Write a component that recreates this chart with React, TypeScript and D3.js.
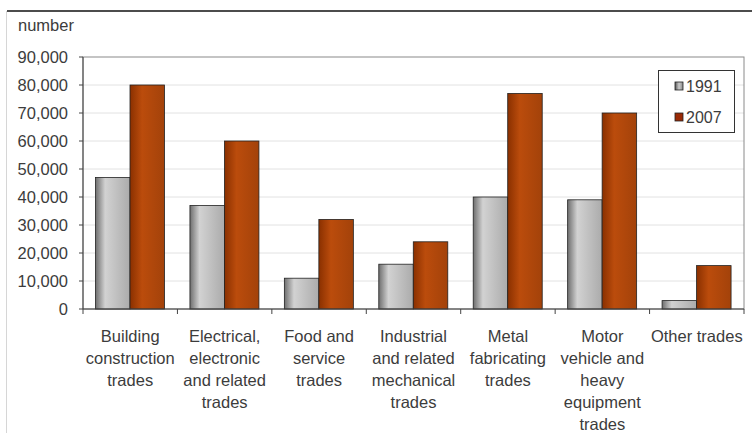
import * as d3 from 'd3'

const categories = [
  'Building construction trades',
  'Electrical, electronic and related trades',
  'Food and service trades',
  'Industrial and related mechanical trades',
  'Metal fabricating trades',
  'Motor vehicle and heavy equipment trades',
  'Other trades',
]
const categoryLines = [
  ['Building', 'construction', 'trades'],
  ['Electrical,', 'electronic', 'and related', 'trades'],
  ['Food and', 'service', 'trades'],
  ['Industrial', 'and related', 'mechanical', 'trades'],
  ['Metal', 'fabricating', 'trades'],
  ['Motor', 'vehicle and', 'heavy', 'equipment', 'trades'],
  ['Other trades'],
]
const seriesNames = ['1991', '2007']
const values1991 = [47000, 37000, 11000, 16000, 40000, 39000, 3000]
const values2007 = [80000, 60000, 32000, 24000, 77000, 70000, 15500]
const yTicks = [0, 10000, 20000, 30000, 40000, 50000, 60000, 70000, 80000, 90000]

const W = 752
const H = 434
const plot = { left: 83, right: 744, top: 57, bottom: 309 }
const font = '"Liberation Sans", Arial, sans-serif'
const textColor = '#3c3c3c'

export default function App() {
  const x = d3.scaleBand<string>().domain(categories).range([plot.left, plot.right])
  const xs = d3.scaleBand<string>().domain(seriesNames).range([12.5, 81.5])
  const y = d3.scaleLinear().domain([0, 90000]).range([plot.bottom, plot.top])
  const fmt = d3.format(',')
  const series = [values1991, values2007]
  const fills = ['url(#g1991)', 'url(#g2007)']

  return (
    <svg width={W} height={H} style={{ position: 'absolute', left: 0, top: 0, background: '#fff' }} fontFamily={font}>
      <defs>
        <linearGradient id="g1991" x1="0" x2="1" y1="0" y2="0">
          <stop offset="0" stopColor="#6e6e6e" />
          <stop offset="0.28" stopColor="#d2d2d2" />
          <stop offset="1" stopColor="#ababab" />
        </linearGradient>
        <linearGradient id="g2007" x1="0" x2="1" y1="0" y2="0">
          <stop offset="0" stopColor="#8a3000" />
          <stop offset="0.35" stopColor="#bb4c0c" />
          <stop offset="1" stopColor="#a3420a" />
        </linearGradient>
        <linearGradient id="l1991" x1="0" x2="1" y1="0" y2="0">
          <stop offset="0" stopColor="#555" />
          <stop offset="0.5" stopColor="#ccc" />
          <stop offset="1" stopColor="#888" />
        </linearGradient>
      </defs>

      {/* outer frame */}
      <line x1={7} x2={W} y1={11} y2={11} stroke="#111" strokeWidth={1.5} />
      <line x1={6.5} x2={6.5} y1={11} y2={433} stroke="#d6d6d6" />

      <text x={18} y={31} fontSize={16.5} fill={textColor}>number</text>

      {/* gridlines */}
      {yTicks.slice(1, -1).map(t => (
        <line key={t} x1={plot.left} x2={plot.right} y1={y(t)} y2={y(t)} stroke="#e2e2e2" />
      ))}
      <rect x={plot.left} y={plot.top} width={plot.right - plot.left} height={plot.bottom - plot.top}
        fill="none" stroke="#8a8a8a" />

      {/* y axis */}
      <line x1={plot.left} x2={plot.left} y1={plot.top} y2={plot.bottom} stroke="#444" />
      {yTicks.map(t => (
        <g key={t}>
          <line x1={plot.left - 4} x2={plot.left} y1={y(t)} y2={y(t)} stroke="#444" />
          <text x={68} y={y(t) + 6} textAnchor="end" fontSize={16.5} fill={textColor}>{fmt(t)}</text>
        </g>
      ))}

      {/* bars */}
      {categories.map((c, i) => (
        <g key={c} transform={`translate(${x(c)},0)`}>
          {seriesNames.map((s, j) => (
            <rect key={s} x={xs(s)} y={y(series[j][i])} width={xs.bandwidth()}
              height={y(0) - y(series[j][i])} fill={fills[j]} stroke="#222" strokeWidth={0.8} />
          ))}
        </g>
      ))}

      {/* x axis */}
      <line x1={plot.left} x2={plot.right} y1={plot.bottom} y2={plot.bottom} stroke="#444" />
      {categories.map(c => (
        <line key={c} x1={x(c)!} x2={x(c)!} y1={plot.bottom} y2={plot.bottom + 5} stroke="#444" />
      ))}
      <line x1={plot.right} x2={plot.right} y1={plot.bottom} y2={plot.bottom + 5} stroke="#444" />
      {categories.map((c, i) => (
        <text key={c} textAnchor="middle" fontSize={16.5} fill={textColor}>
          {categoryLines[i].map((l, k) => (
            <tspan key={k} x={x(c)! + x.bandwidth() / 2} y={342 + k * 22}>{l}</tspan>
          ))}
        </text>
      ))}

      {/* legend */}
      <rect x={658.5} y={70.5} width={76} height={62} fill="#fff" stroke="#333" />
      {seriesNames.map((s, j) => (
        <g key={s} transform={`translate(0,${j * 31})`}>
          <rect x={675} y={82} width={8} height={8} fill={j === 0 ? 'url(#l1991)' : '#9a2a05'} stroke="#222" strokeWidth={0.8} />
          <text x={686} y={92} fontSize={16} fill={textColor}>{s}</text>
        </g>
      ))}
    </svg>
  )
}
